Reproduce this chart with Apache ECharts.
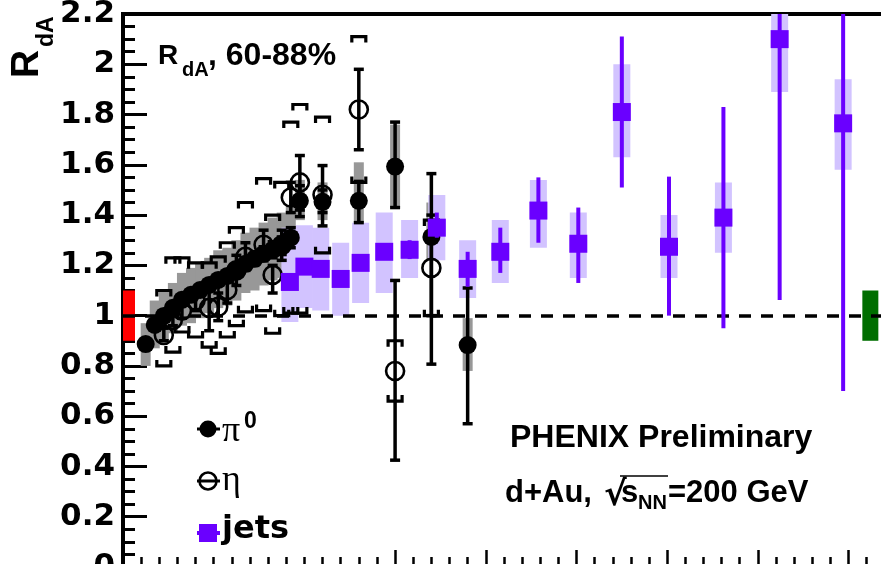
<!DOCTYPE html>
<html>
<head>
<meta charset="utf-8">
<script src="https://cdn.jsdelivr.net/npm/echarts@6/dist/echarts.min.js"></script>
<style>html,body{margin:0;padding:0;background:#fff}#c{width:881px;height:564px}</style>
</head>
<body>
<div id="c"></div>
<script>
// ---------------- data ----------------
const yTicks = ["0", "0.2", "0.4", "0.6", "0.8", "1", "1.2", "1.4", "1.6", "1.8", "2", "2.2"];

// pi0
const pi0X      = [1.25, 1.75, 2.25, 2.75, 3.25, 3.75, 4.25, 4.75, 5.25, 5.75, 6.25, 6.75, 7.25, 7.75, 8.25, 8.75, 9.25, 9.75, 11, 13, 15, 17, 19];
const pi0Y      = [0.887, 0.963, 0.999, 1.031, 1.063, 1.083, 1.102, 1.122, 1.142, 1.158, 1.182, 1.206, 1.226, 1.246, 1.262, 1.278, 1.310, 1.457, 1.453, 1.457, 1.593, 1.313, 0.883];
const pi0StatLo = [0.875, 0.950, 0.987, 1.018, 1.049, 1.068, 1.086, 1.105, 1.124, 1.138, 1.160, 1.182, 1.200, 1.218, 1.230, 1.243, 1.270, 1.394, 1.410, 1.370, 1.430, 0.807, 0.570];
const pi0StatHi = [0.899, 0.976, 1.011, 1.044, 1.077, 1.098, 1.118, 1.139, 1.160, 1.178, 1.204, 1.230, 1.252, 1.274, 1.294, 1.313, 1.350, 1.517, 1.500, 1.534, 1.770, 1.565, 1.110];
const pi0SysLo  = [0.80, 0.87, 0.90, 0.93, 0.96, 0.97, 0.99, 1.01, 1.03, 1.04, 1.06, 1.09, 1.10, 1.12, 1.14, 1.15, 1.18, 1.38, 1.38, 1.37, 1.43, 1.22, 0.78];
const pi0SysHi  = [0.97, 1.06, 1.10, 1.13, 1.17, 1.19, 1.21, 1.23, 1.26, 1.27, 1.30, 1.33, 1.35, 1.37, 1.39, 1.41, 1.44, 1.54, 1.53, 1.61, 1.76, 1.45, 0.99];

// eta
const etaX      = [2.25, 2.75, 3.25, 4.0, 4.75, 5.25, 5.75, 6.25, 6.75, 7.75, 8.25, 8.75, 9.25, 9.75, 11, 13, 15, 17];
const etaY      = [0.923, 0.983, 1.02, 1.06, 1.031, 1.035, 1.102, 1.18, 1.234, 1.282, 1.162, 1.28, 1.47, 1.53, 1.481, 1.82, 0.78, 1.19];
const etaStatLo = [0.90, 0.96, 0.99, 1.02, 0.94, 0.98, 1.05, 1.12, 1.18, 1.23, 1.09, 1.22, 1.41, 1.42, 1.357, 1.66, 0.425, 1.00];
const etaStatHi = [0.95, 1.01, 1.05, 1.10, 1.12, 1.09, 1.16, 1.24, 1.29, 1.34, 1.20, 1.34, 1.53, 1.637, 1.597, 1.98, 1.14, 1.40];
const etaSysLo  = [0.80, 0.855, 0.935, 0.915, 0.875, 0.85, 0.915, 0.96, 1.015, 1.02, 0.93, 1.00, 1.01, 1.01, 1.25, 1.53, 0.66, 1.00];
const etaSysHi  = [1.10, 1.23, 1.23, 1.21, 1.21, 1.234, 1.29, 1.35, 1.45, 1.545, 1.40, 1.53, 1.77, 1.84, 1.79, 2.11, 0.90, 1.38];

// jets
const jetX      = [9.2, 10.0, 10.9, 12.0, 13.1, 14.4, 15.8, 17.3, 19.0, 20.8, 22.9, 25.1, 27.5, 30.1, 33.1, 36.2, 39.7];
const jetY      = [1.134, 1.195, 1.186, 1.146, 1.21, 1.254, 1.262, 1.35, 1.186, 1.254, 1.418, 1.286, 1.81, 1.274, 1.39, 2.10, 1.765];
const jetStatLo = [1.12, 1.18, 1.17, 1.13, 1.19, 1.23, 1.225, 1.31, 1.115, 1.17, 1.29, 1.13, 1.51, 1.00, 0.95, 1.062, 0.70];
const jetStatHi = [1.15, 1.21, 1.20, 1.16, 1.23, 1.28, 1.30, 1.41, 1.254, 1.35, 1.55, 1.43, 2.11, 1.553, 1.83, 2.25, 2.25];
const jetSysLo  = [0.975, 1.03, 1.02, 1.00, 1.05, 1.09, 1.15, 1.22, 1.07, 1.13, 1.27, 1.15, 1.63, 1.15, 1.25, 1.89, 1.58];
const jetSysHi  = [1.35, 1.36, 1.35, 1.29, 1.37, 1.41, 1.38, 1.48, 1.30, 1.38, 1.54, 1.41, 2.00, 1.40, 1.53, 2.20, 1.94];

// global normalisation uncertainties (left: red, right: green)
const normRed   = [0, 0.9, 1.1];
const normGreen = [41.2, 0.9, 1.1];
const refLine   = 1;
const xMin = 0, xMax = 43, yMin = 0, yMax = 2.2;

// ---------------- helpers ----------------
const zip3 = (x, a, b) => x.map((v, i) => [v, a[i], b[i]]);

function boxRender(halfW, color, leftAnchored) {
  return function (params, api) {
    const x = api.value(0), lo = api.value(1), hi = api.value(2);
    const pL = api.coord([x, lo]), pH = api.coord([x, hi]);
    const x0 = leftAnchored ? pL[0] : pL[0] - halfW;
    const w = leftAnchored ? halfW : 2 * halfW;
    return { type: 'rect', shape: { x: x0, y: pH[1], width: w, height: pL[1] - pH[1] }, style: { fill: color } };
  };
}
function errRender(color, lw, capHalf, capH) {
  return function (params, api) {
    const x = api.value(0), lo = api.value(1), hi = api.value(2);
    const pL = api.coord([x, lo]), pH = api.coord([x, hi]);
    const ch = [{ type: 'line', shape: { x1: pL[0], y1: pL[1], x2: pH[0], y2: pH[1] }, style: { stroke: color, lineWidth: lw } }];
    if (capHalf > 0) {
      ch.push({ type: 'rect', shape: { x: pH[0] - capHalf, y: pH[1] - capH / 2, width: 2 * capHalf, height: capH }, style: { fill: color } });
      ch.push({ type: 'rect', shape: { x: pL[0] - capHalf, y: pL[1] - capH / 2, width: 2 * capHalf, height: capH }, style: { fill: color } });
    }
    return { type: 'group', children: ch };
  };
}
function bracketRender(params, api) {
  const x = api.value(0), lo = api.value(1), hi = api.value(2);
  const pL = api.coord([x, lo]), pH = api.coord([x, hi]);
  const hw = 7, leg = 6, lw = 3.2;
  const st = { stroke: '#000', lineWidth: lw, fill: null };
  return { type: 'group', children: [
    { type: 'polyline', shape: { points: [[pH[0] - hw, pH[1] + leg], [pH[0] - hw, pH[1]], [pH[0] + hw, pH[1]], [pH[0] + hw, pH[1] + leg]] }, style: st },
    { type: 'polyline', shape: { points: [[pL[0] - hw, pL[1] - leg], [pL[0] - hw, pL[1]], [pL[0] + hw, pL[1]], [pL[0] + hw, pL[1] - leg]] }, style: st }
  ] };
}

const chart = echarts.init(document.getElementById('c'), null, { renderer: 'canvas' });
const PURPLE = '#6a00ff', LAV = '#d2c3ff', GRAY = '#989898';
const tickFont = 'DejaVu Sans';

chart.setOption({
  animation: false,
  backgroundColor: '#ffffff',
  grid: { left: 123, top: 14, right: -22, bottom: -3, outerBoundsMode: 'none', containLabel: false,
          show: true, borderColor: '#000', borderWidth: 4, backgroundColor: 'transparent' },
  xAxis: [
    { type: 'value', min: xMin, max: xMax, interval: 1, axisLine: { show: false },
      axisTick: { show: true, inside: true, length: 10, lineStyle: { color: '#000', width: 2.5 } },
      axisLabel: { show: false }, splitLine: { show: false } },
    { type: 'value', min: xMin, max: xMax, interval: 5, position: 'bottom', axisLine: { show: false },
      axisTick: { show: true, inside: true, length: 17, customValues: [15, 20, 25, 30, 35, 40], lineStyle: { color: '#000', width: 2.5 } },
      axisLabel: { show: false }, splitLine: { show: false } }
  ],
  yAxis: {
    type: 'value', min: yMin, max: yMax, interval: 0.2,
    axisLine: { show: true, lineStyle: { color: '#000', width: 4 } },
    axisTick: { show: true, inside: true, length: 24, lineStyle: { color: '#000', width: 3 } },
    minorTick: { show: true, splitNumber: 4, length: 12, lineStyle: { color: '#000', width: 3 } },
    axisLabel: { color: '#000', fontFamily: tickFont, fontWeight: 'bold', fontSize: 31, margin: 8,
      formatter: (v) => { const i = Math.round(v / 0.2); return yTicks[i] !== undefined ? yTicks[i] : ''; } },
    splitLine: { show: false }
  },
  series: [
    { type: 'custom', name: 'pi0 sys', renderItem: boxRender(5, GRAY, false), data: zip3(pi0X, pi0SysLo, pi0SysHi), z: 1, clip: true, silent: true },
    { type: 'custom', name: 'norm red', renderItem: boxRender(12, '#ff0000', true), data: [normRed], z: 2, silent: true },
    { type: 'custom', name: 'norm green', renderItem: boxRender(8, '#006e00', false), data: [normGreen], z: 2, silent: true },
    { type: 'custom', name: 'jets sys', renderItem: boxRender(8.5, LAV, false), data: zip3(jetX, jetSysLo, jetSysHi), z: 3, clip: true, silent: true },
    { type: 'line', name: 'ref', data: [], z: 4, silent: true,
      markLine: { silent: true, symbol: 'none', label: { show: false }, lineStyle: { color: '#000', width: 3.5, type: [12, 10] }, data: [{ yAxis: refLine }] } },
    { type: 'custom', name: 'eta sys', renderItem: bracketRender, data: zip3(etaX, etaSysLo, etaSysHi), z: 5, clip: true, silent: true },
    { type: 'custom', name: 'pi0 stat', renderItem: errRender('#000', 3.5, 5, 3.5), data: zip3(pi0X, pi0StatLo, pi0StatHi), z: 6, clip: true, silent: true },
    { type: 'custom', name: 'eta stat', renderItem: errRender('#000', 3.5, 5, 3.5), data: zip3(etaX, etaStatLo, etaStatHi), z: 6, clip: true, silent: true },
    { type: 'scatter', name: 'pi0', data: pi0X.map((x, i) => [x, pi0Y[i]]), symbol: 'circle', symbolSize: 18,
      itemStyle: { color: '#000', opacity: 1 }, z: 7, silent: true },
    { type: 'scatter', name: 'eta', data: etaX.map((x, i) => [x, etaY[i]]), symbol: 'circle', symbolSize: 18,
      itemStyle: { color: 'rgba(0,0,0,0)', borderColor: '#000', borderWidth: 2.6, opacity: 1 }, z: 8, silent: true },
    { type: 'custom', name: 'jets stat', renderItem: errRender(PURPLE, 4, 0, 0), data: zip3(jetX, jetStatLo, jetStatHi), z: 9, clip: true, silent: true },
    { type: 'scatter', name: 'jets', data: jetX.map((x, i) => [x, jetY[i]]), symbol: 'rect', symbolSize: 18,
      itemStyle: { color: PURPLE, opacity: 1 }, z: 10, silent: true }
  ],
  graphic: [
    // y-axis title (rotated)
    { type: 'text', x: 47, y: 78, rotation: Math.PI / 2, style: { text: 'R', font: 'bold 39px "Liberation Sans"', fill: '#000', textAlign: 'left', textVerticalAlign: 'bottom' } },
    { type: 'text', x: 58, y: 47, rotation: Math.PI / 2, style: { text: 'dA', font: 'bold 23px "Liberation Sans"', fill: '#000', textAlign: 'left', textVerticalAlign: 'bottom' } },
    // inner label
    { type: 'text', x: 158, y: 56, style: { text: 'R', font: 'bold 28px "Liberation Sans"', fill: '#000', textAlign: 'left', textVerticalAlign: 'middle' } },
    { type: 'text', x: 182, y: 70, style: { text: 'dA', font: 'bold 20px "Liberation Sans"', fill: '#000', textAlign: 'left', textVerticalAlign: 'middle' } },
    { type: 'text', x: 208, y: 56, style: { text: ', 60-88%', font: 'bold 32px "Liberation Sans"', fill: '#000', textAlign: 'left', textVerticalAlign: 'middle' } },
    // PHENIX text
    { type: 'text', x: 510, y: 438, style: { text: 'PHENIX Preliminary', font: 'bold 32px "Liberation Sans"', fill: '#000', textAlign: 'left', textVerticalAlign: 'middle' } },
    { type: 'text', x: 505, y: 493, style: { text: 'd+Au,', font: 'bold 31px "Liberation Sans"', fill: '#000', textAlign: 'left', textVerticalAlign: 'middle' } },
    { type: 'text', x: 604, y: 496, style: { text: '\u221A', font: 'bold 34px "DejaVu Sans"', fill: '#000', textAlign: 'left', textVerticalAlign: 'middle' } },
    { type: 'line', shape: { x1: 620, y1: 476, x2: 668, y2: 476 }, style: { stroke: '#000', lineWidth: 1.5 } },
    { type: 'text', x: 621, y: 493, style: { text: 's', font: 'bold 31px "Liberation Sans"', fill: '#000', textAlign: 'left', textVerticalAlign: 'middle' } },
    { type: 'text', x: 638, y: 503, style: { text: 'NN', font: 'bold 20px "Liberation Sans"', fill: '#000', textAlign: 'left', textVerticalAlign: 'middle' } },
    { type: 'text', x: 668, y: 493, style: { text: '=200 GeV', font: 'bold 31px "Liberation Sans"', fill: '#000', textAlign: 'left', textVerticalAlign: 'middle' } },
    // legend
    { type: 'line', shape: { x1: 197, y1: 429, x2: 220, y2: 429 }, style: { stroke: '#000', lineWidth: 3 } },
    { type: 'circle', shape: { cx: 208, cy: 429, r: 8.5 }, style: { fill: '#000' } },
    { type: 'text', x: 222, y: 432, style: { text: '\u03C0', font: '36px "Liberation Serif"', fill: '#000', textAlign: 'left', textVerticalAlign: 'middle' } },
    { type: 'text', x: 244, y: 422, style: { text: '0', font: 'bold 23px "Liberation Sans"', fill: '#000', textAlign: 'left', textVerticalAlign: 'middle' } },
    { type: 'line', shape: { x1: 197, y1: 481, x2: 220, y2: 481 }, style: { stroke: '#000', lineWidth: 3 } },
    { type: 'circle', shape: { cx: 208, cy: 481, r: 8.5 }, style: { fill: null, stroke: '#000', lineWidth: 2.6 } },
    { type: 'text', x: 222, y: 481, style: { text: '\u03B7', font: '36px "Liberation Serif"', fill: '#000', textAlign: 'left', textVerticalAlign: 'middle' } },
    { type: 'line', shape: { x1: 197, y1: 533, x2: 220, y2: 533 }, style: { stroke: PURPLE, lineWidth: 4 } },
    { type: 'rect', shape: { x: 199, y: 524, width: 18, height: 18 }, style: { fill: PURPLE } },
    { type: 'text', x: 222, y: 530, style: { text: 'jets', font: 'bold 32px "DejaVu Sans"', fill: '#000', textAlign: 'left', textVerticalAlign: 'middle' } }
  ]
});
</script>
</body>
</html>
